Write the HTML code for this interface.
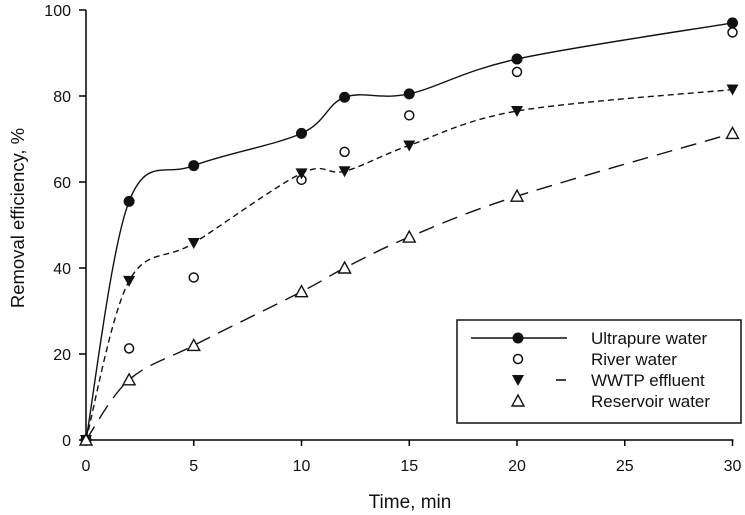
<!DOCTYPE html>
<html><head><meta charset="utf-8"><style>
html,body{margin:0;padding:0;background:#fff;}
svg{display:block;font-family:"Liberation Sans",Arial,sans-serif;}
</style></head><body>
<svg id="chart" width="745" height="515" viewBox="0 0 745 515"></svg>
<script>
const times=[0,2,5,10,12,15,20,30];
const ultrapure=[0,55.5,63.8,71.3,79.7,80.5,88.6,97];
const river=[0,21.3,37.8,60.5,67,75.5,85.6,94.8];
const wwtp=[0,37,45.8,62,62.5,68.5,76.5,81.5];
const reservoir=[0,14,22,34.5,40,47.2,56.7,71.3];
const xTicks=[0,5,10,15,20,25,30];
const yTicks=[0,20,40,60,80,100];

const NS="http://www.w3.org/2000/svg";
const svg=document.getElementById('chart');
const X=v=>86+v*21.55;
const Y=v=>440-v*4.3;
function mk(tag,attrs,parent){const e=document.createElementNS(NS,tag);for(const k in attrs)e.setAttribute(k,attrs[k]);(parent||svg).appendChild(e);return e;}

let ax=mk('g',{});


mk('line',{x1:X(0),y1:Y(0),x2:X(30)+1,y2:Y(0),stroke:'#000','stroke-width':1.5},ax);
mk('line',{x1:X(0),y1:Y(0),x2:X(0),y2:Y(100),stroke:'#000','stroke-width':1.5},ax);
xTicks.forEach(t=>{
  mk('line',{x1:X(t),y1:Y(0),x2:X(t),y2:Y(0)+6,stroke:'#000','stroke-width':1.5},ax);
  const tx=mk('text',{x:X(t),y:471,'text-anchor':'middle','font-size':16,fill:'#111'},ax);
  tx.textContent=t;
  
  
});
yTicks.forEach(t=>{
  mk('line',{x1:X(0)-7,y1:Y(t),x2:X(0),y2:Y(t),stroke:'#000','stroke-width':1.5},ax);
  const tx=mk('text',{x:X(0)-15,y:Y(t)+6,'text-anchor':'end','font-size':16,fill:'#111'},ax);
  tx.textContent=t;
  
  
});
let xt=mk('text',{x:410,y:508,'text-anchor':'middle','font-size':19,fill:'#111'});
xt.textContent='Time, min';


let yt=mk('text',{x:0,y:0,'text-anchor':'middle','font-size':18.5,fill:'#111',transform:'translate(24,218) rotate(-90)'});
yt.textContent='Removal efficiency, %';



function spline(xs,ys){
  const p=xs.map((x,i)=>[X(x),Y(ys[i])]);
  let d=`M${p[0][0]},${p[0][1]}`;
  for(let i=0;i<p.length-1;i++){
    const p0=p[i-1]||p[i],p1=p[i],p2=p[i+1],p3=p[i+2]||p[i+1];
    const c1=[p1[0]+(p2[0]-p0[0])/6,p1[1]+(p2[1]-p0[1])/6];
    const c2=[p2[0]-(p3[0]-p1[0])/6,p2[1]-(p3[1]-p1[1])/6];
    d+=` C${c1[0]},${c1[1]} ${c2[0]},${c2[1]} ${p2[0]},${p2[1]}`;
  }
  return d;
}
function marker(type,x,y,g){
  if(type==='dot')return mk('circle',{cx:x,cy:y,r:5.5,fill:'#111'},g);
  if(type==='circ')return mk('circle',{cx:x,cy:y,r:4.5,fill:'#fff',stroke:'#111','stroke-width':1.5},g);
  if(type==='tri-down')return mk('path',{d:`M${x-6},${y-5} L${x+6},${y-5} L${x},${y+6} Z`,fill:'#111'},g);
  return mk('path',{d:`M${x-6},${y+5} L${x+6},${y+5} L${x},${y-6} Z`,fill:'#fff',stroke:'#111','stroke-width':1.4},g);
}
const series=[
  {name:'ultrapure',vals:ultrapure,line:true,dash:'',m:'dot'},
  {name:'river',vals:river,line:false,m:'circ'},
  {name:'wwtp',vals:wwtp,line:true,dash:'6,4',m:'tri-down'},
  {name:'reservoir',vals:reservoir,line:true,dash:'16,9',m:'tri-up'}
];
series.forEach(s=>{
  const g=mk('g',{});
  
  
  if(s.line){
    const l=mk('path',{d:spline(times,s.vals),fill:'none',stroke:'#111','stroke-width':1.4,'stroke-dasharray':s.dash},g);
    
    
  }
  times.forEach((t,i)=>{
    const m=marker(s.m,X(t),Y(s.vals[i]),g);
    
    
  });
});

const lg=mk('g',{});


mk('rect',{x:457,y:320,width:284,height:103,fill:'#fff',stroke:'#111','stroke-width':1.5},lg);
const labels=['Ultrapure water','River water','WWTP effluent','Reservoir water'];
labels.forEach((lab,i)=>{
  const y=338+i*21;
  const e=mk('g',{},lg);
  
  
  if(i===0)mk('line',{x1:471,y1:y,x2:567,y2:y,stroke:'#111','stroke-width':1.4},e);
  if(i===2)mk('line',{x1:556,y1:y,x2:566,y2:y,stroke:'#111','stroke-width':1.6},e);
  marker(series[i].m,518,y,e);
  const t=mk('text',{x:591,y:y+6,'font-size':17,fill:'#111'},e);
  t.textContent=lab;
});
</script>
</body></html>
